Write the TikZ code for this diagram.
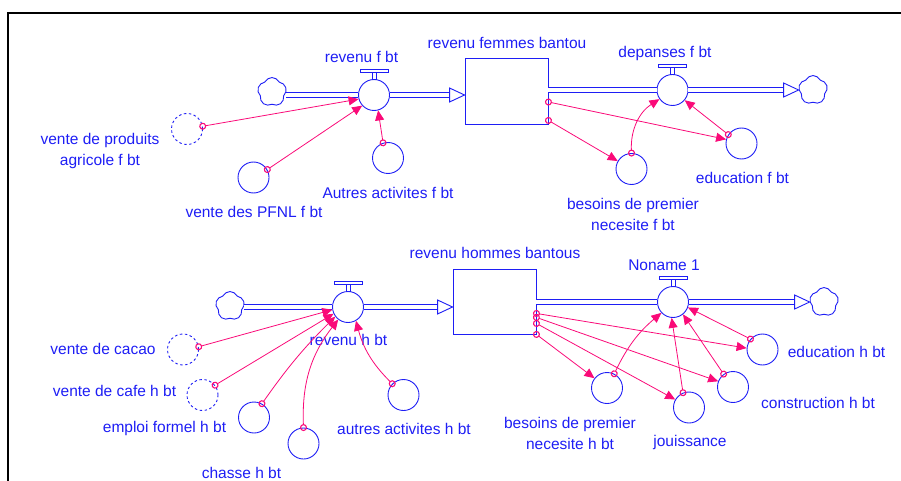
\documentclass[tikz,border=0pt]{standalone}
\usepackage{fontspec}
\setmainfont{Liberation Sans}
\usetikzlibrary{arrows.meta,shapes.symbols}

\definecolor{vblue}{RGB}{30,30,245}
\definecolor{vpink}{RGB}{250,10,120}

\tikzset{
  flowline/.style={draw=vblue, line width=0.9pt},
  pipe/.style={draw=vblue, line width=1pt, double=white, double distance=4pt},
  valve/.style={circle, draw=vblue, fill=white, line width=0.9pt, minimum size=31pt, inner sep=0pt},
  aux/.style={circle, draw=vblue, line width=0.9pt, minimum size=31pt, inner sep=0pt},
  ghost/.style={aux, dash pattern=on 2.5pt off 2.5pt},
  stockbox/.style={rectangle, draw=vblue, line width=0.9pt, minimum width=83pt, minimum height=66pt, inner sep=0pt},
  cloudsym/.style={cloud, cloud puffs=5, cloud puff arc=130, aspect=1, draw=vblue, fill=white, line width=0.9pt, minimum size=29pt, inner sep=0pt},
  lbl/.style={text=vblue, font=\fontsize{15.5}{21}\selectfont, align=center, inner sep=0pt},
  link/.style={draw=vpink, line width=0.8pt, shorten <=-3.5pt,
    {Circle[open,length=7pt,width=7pt,line width=1.1pt]}-{Triangle[length=10pt,width=9pt]}},
  frame/.style={draw=black, line width=2pt}
}

% bar on top of a flow valve
\newcommand{\valvetop}[1]{%
  \draw[flowline, fill=white] ([xshift=-2pt]#1.north) rectangle ([xshift=2pt,yshift=7pt]#1.north);
  \draw[flowline, fill=white] ([xshift=-14pt,yshift=7pt]#1.north) rectangle ([xshift=14pt,yshift=10pt]#1.north);}
% hollow head at the end of a pipe
\newcommand{\pipehead}[1]{%
  \draw[flowline, fill=white] (#1) -- ++(-15pt,7pt) -- ++(0pt,-14pt) -- cycle;}

\begin{document}
\begin{tikzpicture}[x=1pt,y=-1pt]
  \useasboundingbox (0,0) rectangle (901,481);
  \draw[frame] (8,481) -- (8,13) -- (901,13);

  % women
  \node[cloudsym] (cloudA) at (272,92) {};
  \node[valve] (valveA) at (374,95) {};
  \node[stockbox] (stockF) at (506.5,91) {};
  \node[valve] (valveB) at (672.5,90) {};
  \node[cloudsym] (cloudB) at (813,90) {};
  \valvetop{valveA}
  \valvetop{valveB}
  \coordinate (tipA) at (stockF.west |- valveA.east);
  \coordinate (tipB) at (cloudB.west |- valveB.east);
  \draw[pipe] (cloudA.east |- valveA.west) -- (valveA.west);
  \draw[pipe] (valveA.east) -- ([xshift=-15pt]tipA);
  \pipehead{tipA}
  \draw[pipe] (stockF.east |- valveB.west) -- (valveB.west);
  \draw[pipe] (valveB.east) -- ([xshift=-15pt]tipB);
  \pipehead{tipB}

  \node[ghost] (vpa) at (187,129) {};
  \node[aux] (pfnl) at (253.5,177.5) {};
  \node[aux] (autf) at (388,158) {};
  \node[aux] (besf) at (631.5,169) {};
  \node[aux] (eduf) at (741.5,143.5) {};

  \node[lbl] (lvalveA) at (361.5,57) {revenu f bt};
  \node[lbl] (lstockF) at (507,43) {revenu femmes bantou};
  \node[lbl] (lvalveB) at (665,53) {depanses f bt};
  \node[lbl] (lvpa) at (100,151) {vente de produits\\agricole f bt};
  \node[lbl] (lpfnl) at (254,212) {vente des PFNL f bt};
  \node[lbl] (lautf) at (388,193) {Autres activites f bt};
  \node[lbl] (lbesf) at (633,214.5) {besoins de premier\\necesite f bt};
  \node[lbl] (leduf) at (742.5,178) {education f bt};

  \draw[link] (vpa.10) -- (valveA.195);
  \draw[link] (pfnl.30) -- (valveA.222);
  \draw[link] (autf.108) -- (valveA.285);
  \draw[link] ([yshift=4pt]stockF.south east) -- (besf.150);
  \draw[link] ([yshift=-11pt]stockF.east) -- (eduf.165);
  \draw[link] (besf.north) to[bend left=30] (valveB.215);
  \draw[link] (eduf.146) -- (valveB.-40);

  % men
  \node[cloudsym] (cloudC) at (230,306) {};
  \node[valve] (valveC) at (348,307) {};
  \node[stockbox, minimum height=65pt] (stockH) at (494.5,301.5) {};
  \node[valve] (valveD) at (673,302) {};
  \node[cloudsym] (cloudD) at (824,302) {};
  \valvetop{valveC}
  \valvetop{valveD}
  \coordinate (tipC) at (stockH.west |- valveC.east);
  \coordinate (tipD) at (cloudD.west |- valveD.east);
  \draw[pipe] (cloudC.east |- valveC.west) -- (valveC.west);
  \draw[pipe] (valveC.east) -- ([xshift=-15pt]tipC);
  \pipehead{tipC}
  \draw[pipe] (stockH.east |- valveD.west) -- (valveD.west);
  \draw[pipe] (valveD.east) -- ([xshift=-15pt]tipD);
  \pipehead{tipD}

  \node[ghost] (cacao) at (183,349.5) {};
  \node[ghost] (cafe) at (202.5,395) {};
  \node[aux] (emploi) at (254,417.5) {};
  \node[aux] (chasse) at (303.5,443.5) {};
  \node[aux] (autresh) at (403.5,395) {};
  \node[aux] (besh) at (607,388) {};
  \node[aux] (joui) at (689,407.5) {};
  \node[aux] (constr) at (733,387) {};
  \node[aux] (eduh) at (762.5,349.5) {};

  \node[lbl] (lvalveC) at (348.5,340) {revenu h bt};
  \node[lbl] (lstockH) at (495,253) {revenu hommes bantous};
  \node[lbl] (lvalveD) at (664,265) {Noname 1};
  \node[lbl] (lcacao) at (103,349) {vente de cacao};
  \node[lbl] (lcafe) at (114.5,391) {vente de cafe h bt};
  \node[lbl] (lemploi) at (164.5,428) {emploi formel h bt};
  \node[lbl] (lchasse) at (241.5,473) {chasse h bt};
  \node[lbl] (lautresh) at (404,429) {autres activites h bt};
  \node[lbl] (lbesh) at (570,433.5) {besoins de premier\\necesite h bt};
  \node[lbl] (ljoui) at (690,442) {jouissance};
  \node[lbl] (lconstr) at (818,403) {construction h bt};
  \node[lbl] (leduh) at (836.5,352) {education h bt};

  \draw[link] (cacao.10) -- (valveC.190);
  \draw[link] (cafe.38) -- (valveC.205);
  \draw[link] (emploi.60) to[bend left=5] (valveC.217);
  \draw[link] (chasse.north) to[bend left=20] (valveC.232);
  \draw[link] (autresh.135) to[bend left=15] (valveC.300);
  \draw[link] (stockH.south east) -- (besh.142);
  \draw[link] ([yshift=11pt]stockH.south east) -- (joui.150);
  \draw[link] ([yshift=17pt]stockH.south east) -- (constr.159);
  \draw[link] ([yshift=21pt]stockH.south east) -- (eduh.175);
  \draw[link] (besh.63) to[bend left=12] (valveD.223);
  \draw[link] (joui.112) -- (valveD.265);
  \draw[link] (constr.126) -- (valveD.309);
  \draw[link] (eduh.139) -- (valveD.340);
\end{tikzpicture}
\end{document}
